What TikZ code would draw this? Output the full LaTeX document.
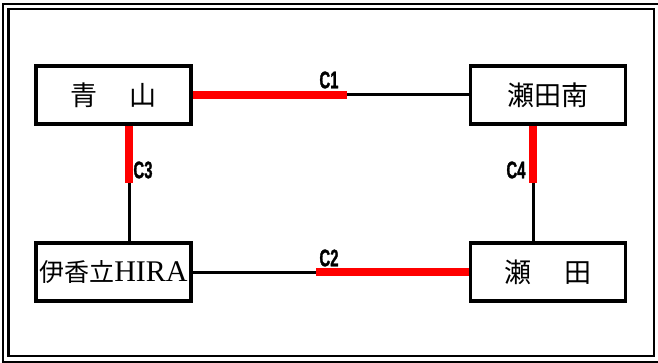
\documentclass[tikz,border=0pt]{standalone}
\usepackage{fontspec}
\setmainfont{Liberation Serif}
\newfontfamily\jp{Noto Sans CJK JP}
\newfontfamily\lblfont[FakeStretch=0.62,FakeBold=1.2]{Liberation Sans}
\tikzset{
  stn/.style={draw, line width=3.4pt, fill=white, minimum width=155pt, minimum height=58pt, inner sep=0pt, font=\jp\fontsize{27}{27}\selectfont},
  redline/.style={draw=red, line width=7.5pt},
  blkline/.style={draw=black, line width=3pt},
  cname/.style={font=\lblfont\bfseries\fontsize{24}{24}\selectfont, inner sep=0pt}
}
\begin{document}
\begin{tikzpicture}[x=1pt,y=-1pt]
    \useasboundingbox (0,0) rectangle (658,363);
    \draw[line width=2.8pt] (3,4) rectangle (659,362);
    \draw[line width=2.8pt] (8.5,9) rectangle (654,356);
    \node[stn] (aoyama) at (113.5,95) {青\hspace{33pt}山};
    \node[stn] (setaminami) at (548,95) {瀬田南};
    \node[stn] (ika) at (113.5,272) {\fontsize{25}{25}\selectfont 伊香立{\rmfamily\fontsize{30}{30}\selectfont HIRA}};
    \node[stn] (seta) at (548,272) {瀬\hspace{33pt}田};
    \coordinate (c1) at (347,95);
    \coordinate (c2) at (316,272);
    \coordinate (c3) at (129,183);
    \coordinate (c4) at (533,183);
    \draw[redline] (aoyama.east) -- (c1);
    \draw[blkline] (c1) -- (setaminami.west);
    \draw[blkline] (ika.east) -- (c2);
    \draw[redline] (c2) -- (seta.west);
    \draw[redline] (c3 |- aoyama.south) -- (c3);
    \draw[blkline] (c3) -- (c3 |- ika.north);
    \draw[redline] (c4 |- setaminami.south) -- (c4);
    \draw[blkline] (c4) -- (c4 |- seta.north);
    \node[cname] (lc1) at (329,80) {C1};
    \node[cname] (lc2) at (329,258) {C2};
    \node[cname] (lc3) at (143,170) {C3};
    \node[cname] (lc4) at (516,170) {C4};
\end{tikzpicture}
\end{document}
